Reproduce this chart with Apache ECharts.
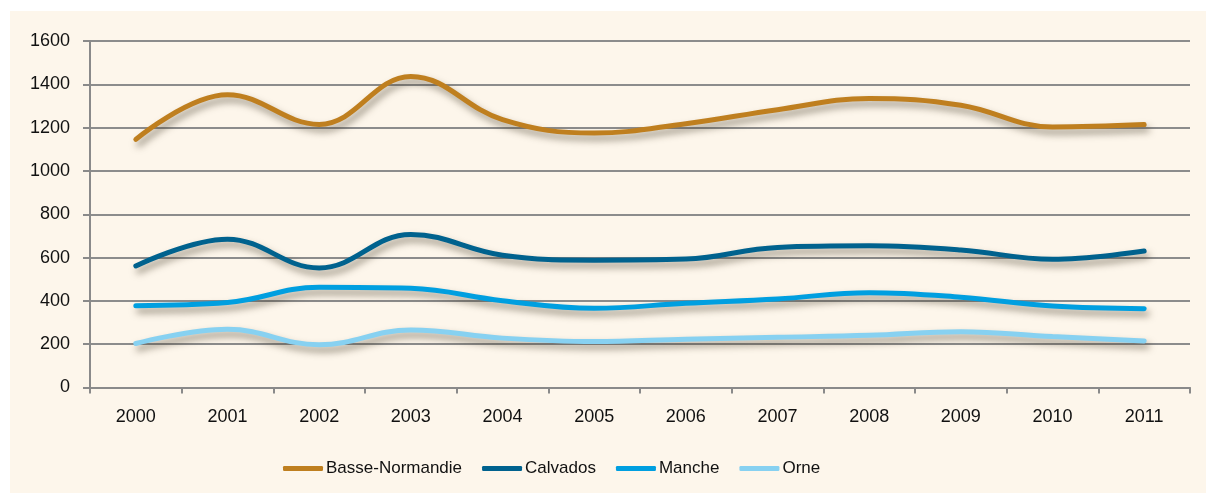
<!DOCTYPE html>
<html>
<head>
<meta charset="utf-8">
<script src="https://cdn.jsdelivr.net/npm/echarts@6/dist/echarts.min.js"></script>
<style>
html,body{margin:0;padding:0;background:#ffffff;}
#chart{width:1206px;height:493px;}
</style>
</head>
<body>
<div id="chart"></div>
<script>
const years = ['2000','2001','2002','2003','2004','2005','2006','2007','2008','2009','2010','2011'];
const basseNormandie = [1146,1352,1215,1436,1237,1175,1218,1283,1335,1303,1203,1214];
const calvados = [561,685,552,707,611,588,593,647,654,635,592,630];
const manche = [378,392,463,458,401,366,389,409,438,417,376,364];
const orne = [203,269,197,266,228,212,223,232,241,258,235,215];
const seriesNames = ['Basse-Normandie','Calvados','Manche','Orne'];
const seriesColors = ['#BF7F1F','#00628E','#009FE0','#87D1F1'];
const seriesData = [basseNormandie, calvados, manche, orne];

const chart = echarts.init(document.getElementById('chart'), null, {renderer:'canvas'});
const labelFont = "'Liberation Sans', Arial, sans-serif";

chart.setOption({
  backgroundColor: '#ffffff',
  animation: false,
  graphic: [{
    type: 'rect', z: -10, silent: true,
    shape: {x: 10, y: 11, width: 1196, height: 482},
    style: {fill: '#FDF6EB'}
  }],
  grid: {left: 90, right: 16, top: 41, bottom: 105.5, containLabel: false},
  legend: {
    top: 455,
    left: 278,
    itemWidth: 40,
    itemHeight: 5,
    itemGap: 20,
    icon: 'roundRect',
    textStyle: {fontFamily: labelFont, fontSize: 17, color: '#111', padding: [0, 0, 0, -2]},
    data: seriesNames.map((n, i) => ({name: n, itemStyle: {color: seriesColors[i]}}))
  },
  xAxis: {
    type: 'category',
    data: years,
    boundaryGap: true,
    axisLine: {lineStyle: {color: '#8a8a8a', width: 2}},
    axisTick: {show: true, length: 6, lineStyle: {color: '#8a8a8a', width: 2}},
    axisLabel: {fontFamily: labelFont, fontSize: 18, color: '#111', margin: 21}
  },
  yAxis: {
    type: 'value',
    min: 0, max: 1600, interval: 200,
    axisLine: {show: true, lineStyle: {color: '#8a8a8a', width: 2}},
    axisTick: {show: true, length: 7, lineStyle: {color: '#8a8a8a', width: 2}},
    splitLine: {lineStyle: {color: '#8c8c8c', width: 2}},
    axisLabel: {fontFamily: labelFont, fontSize: 18, color: '#111', margin: 20,
      formatter: v => String(v)}
  },
  series: seriesNames.map((n, i) => ({
    name: n,
    type: 'line',
    smooth: 0.4,
    symbol: 'none',
    data: seriesData[i],
    lineStyle: {
      color: seriesColors[i], width: 5, cap: 'round',
      shadowColor: 'rgba(60,50,30,0.5)', shadowBlur: 7, shadowOffsetX: 3, shadowOffsetY: 5
    },
    itemStyle: {color: seriesColors[i]}
  }))
});
</script>
</body>
</html>
